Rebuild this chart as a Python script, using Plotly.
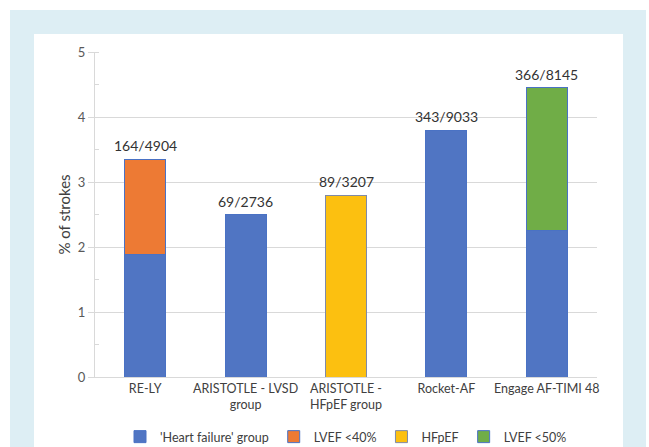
import plotly.graph_objects as go

categories = ["RE-LY", "ARISTOTLE - LVSD<br>group", "ARISTOTLE -<br>HFpEF group", "Rocket-AF", "Engage AF-TIMI 48"]
hf_group = [1.88, 2.5, None, 3.8, 2.25]
lvef40 = [1.47, None, None, None, None]
hfpef = [None, None, 2.8, None, None]
lvef50 = [None, None, None, None, 2.2]
labels = ["164/4904", "69/2736", "89/3207", "343/9033", "366/8145"]
totals = [3.35, 2.5, 2.8, 3.8, 4.45]
yticks = [0, 1, 2, 3, 4, 5]

W, H = 649, 447
L, R, T, B = 95, 597, 52, 377

def px(x):
    return (x - L) / (R - L)

def py(y):
    return (B - y) / (B - T)

font = "Lato, 'Open Sans', sans-serif"
outline = dict(color="#4a72c4", width=1)

fig = go.Figure()
fig.add_trace(go.Bar(x=categories, y=hf_group, name="'Heart failure' group",
                     marker=dict(color="#5075c3", line=outline), width=0.41))
fig.add_trace(go.Bar(x=categories, y=lvef40, name="LVEF <40%",
                     marker=dict(color="#ed7a34", line=outline), width=0.41))
fig.add_trace(go.Bar(x=categories, y=hfpef, name="HFpEF",
                     marker=dict(color="#fcc010", line=dict(color="#7f8aa8", width=1)), width=0.41))
fig.add_trace(go.Bar(x=categories, y=lvef50, name="LVEF <50%",
                     marker=dict(color="#70ad47", line=outline), width=0.41))

for c, t, lab in zip(categories, totals, labels):
    fig.add_annotation(x=c, y=t, text=lab, showarrow=False, yanchor="bottom", yshift=3,
                       font=dict(size=14, color="#333333", family=font))

# background frame
fig.add_shape(type="rect", xref="paper", yref="paper", layer="below",
              x0=px(10), x1=px(646), y0=py(447), y1=py(10),
              fillcolor="#ddeef4", line=dict(width=0))
fig.add_shape(type="rect", xref="paper", yref="paper", layer="below",
              x0=px(34), x1=px(623), y0=py(447), y1=py(34),
              fillcolor="white", line=dict(width=0))

fig.update_layout(
    width=W, height=H,
    margin=dict(l=L, r=W - R, t=T, b=H - B, pad=0, autoexpand=False),
    paper_bgcolor="white", plot_bgcolor="rgba(0,0,0,0)",
    barmode="stack",
    font=dict(family=font, color="#595959", size=12),
    legend=dict(orientation="h", x=0.5, xanchor="center", y=py(437), yanchor="middle",
                font=dict(size=12.5, color="#404040"), itemwidth=30, traceorder="normal",
                bgcolor="rgba(0,0,0,0)"),
    showlegend=True,
)
fig.update_yaxes(range=[0, 5], tickvals=yticks, showgrid=True, gridcolor="#d9d9d9", gridwidth=1,
                 showline=True, linecolor="#d9d9d9", ticks="outside", ticklen=6, tickcolor="#d9d9d9",
                 tickfont=dict(size=13, color="#595959"), zeroline=False, automargin=False,
                 minor=dict(dtick=0.5, ticks="inside", ticklen=4, tickcolor="#d9d9d9", showgrid=False),
                 title=dict(text="% of strokes", font=dict(size=15, color="#404040"), standoff=3))
fig.update_xaxes(showline=True, linecolor="#d9d9d9", ticks="", automargin=False,
                 tickfont=dict(size=12.5, color="#404040"), showgrid=False)

fig.write_html("out.html", config={"displayModeBar": False},
               post_script="document.body.style.margin='0';document.body.style.overflow='hidden';")
